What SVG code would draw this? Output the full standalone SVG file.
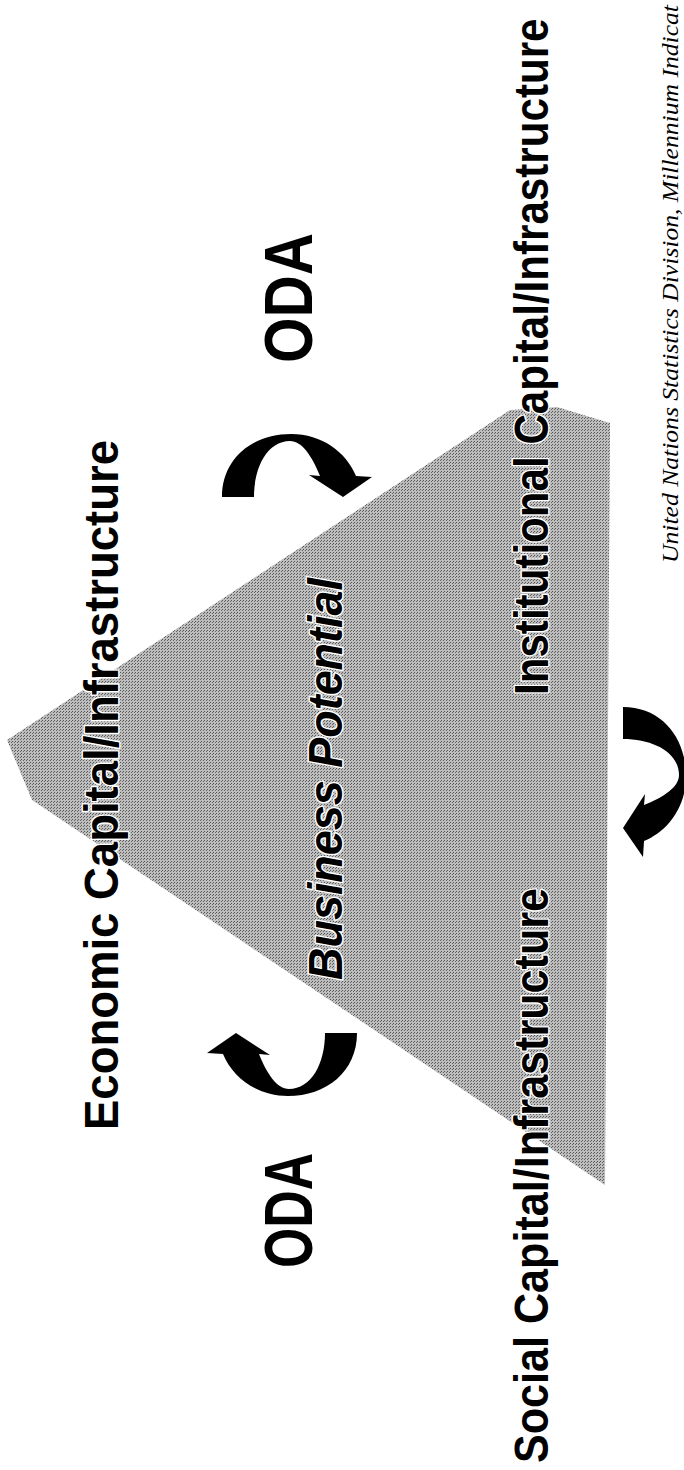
<svg xmlns="http://www.w3.org/2000/svg" width="684" height="1470" viewBox="0 0 684 1470">
  <style>
    .lbl { font-family: "Liberation Sans", Arial, sans-serif; font-weight: bold; fill: #000; stroke: #fff; stroke-width: 3; paint-order: stroke; stroke-linejoin: round; }
    .ital { font-style: italic; }
    .src { font-family: "Liberation Serif", "Times New Roman", serif; font-style: italic; fill: #000; }
    .arrow { fill: #000; }
  </style>
  <defs>
    <pattern id="stipple" width="3" height="3" patternUnits="userSpaceOnUse">
      <rect width="3" height="3" fill="#bdbdbd"/>
      <rect x="0" y="0" width="1" height="1" fill="#555"/>
      <rect x="2" y="1" width="1" height="1" fill="#666"/>
    </pattern>
    <path id="curvedArrow" d="M 222,497 C 222,458 253,434 291,434 C 322,434 346,452 356,476 L 372,477 L 343,497 L 309,475 L 320,476 C 312,456 302,441 290,441 C 268,441 254,466 254,497 Z"/>
  </defs>
  <rect width="684" height="1470" fill="#fff"/>

  <g id="triangle">
    <polygon points="7,740 510,410 557,407 610,423 605,1185 32,800" fill="url(#stipple)"/>
  </g>

  <g id="connectors">
    <use href="#curvedArrow" class="arrow"/>
    <use href="#curvedArrow" class="arrow" transform="rotate(180 289.5 765)"/>
    <use href="#curvedArrow" class="arrow" transform="rotate(90 317.5 802.5)"/>
  </g>

  <g id="node-economic">
    <text class="lbl" font-size="49" transform="translate(118,1130) rotate(-90)" textLength="690" lengthAdjust="spacingAndGlyphs">Economic Capital/Infrastructure</text>
  </g>
  <g id="node-business">
    <text class="lbl ital" font-size="49" transform="translate(342,980) rotate(-90)" textLength="402" lengthAdjust="spacingAndGlyphs">Business Potential</text>
  </g>
  <g id="node-institutional">
    <text class="lbl" font-size="49" transform="translate(548,695) rotate(-90) scale(0.86,1)">Institutional Capital/Infrastructure</text>
  </g>
  <g id="node-social">
    <text class="lbl" font-size="49" transform="translate(548,1463) rotate(-90)" textLength="575" lengthAdjust="spacingAndGlyphs">Social Capital/Infrastructure</text>
  </g>
  <g id="label-oda-top">
    <text class="lbl" font-size="68" transform="translate(312,363) rotate(-90)" textLength="130" lengthAdjust="spacingAndGlyphs">ODA</text>
  </g>
  <g id="label-oda-bottom">
    <text class="lbl" font-size="68" transform="translate(312,1268) rotate(-90)" textLength="115" lengthAdjust="spacingAndGlyphs">ODA</text>
  </g>
  <g id="source">
    <text class="src" font-size="24" transform="translate(678,563) rotate(-90)" textLength="558" lengthAdjust="spacingAndGlyphs">United Nations Statistics Division, Millennium Indicat</text>
  </g>
</svg>
